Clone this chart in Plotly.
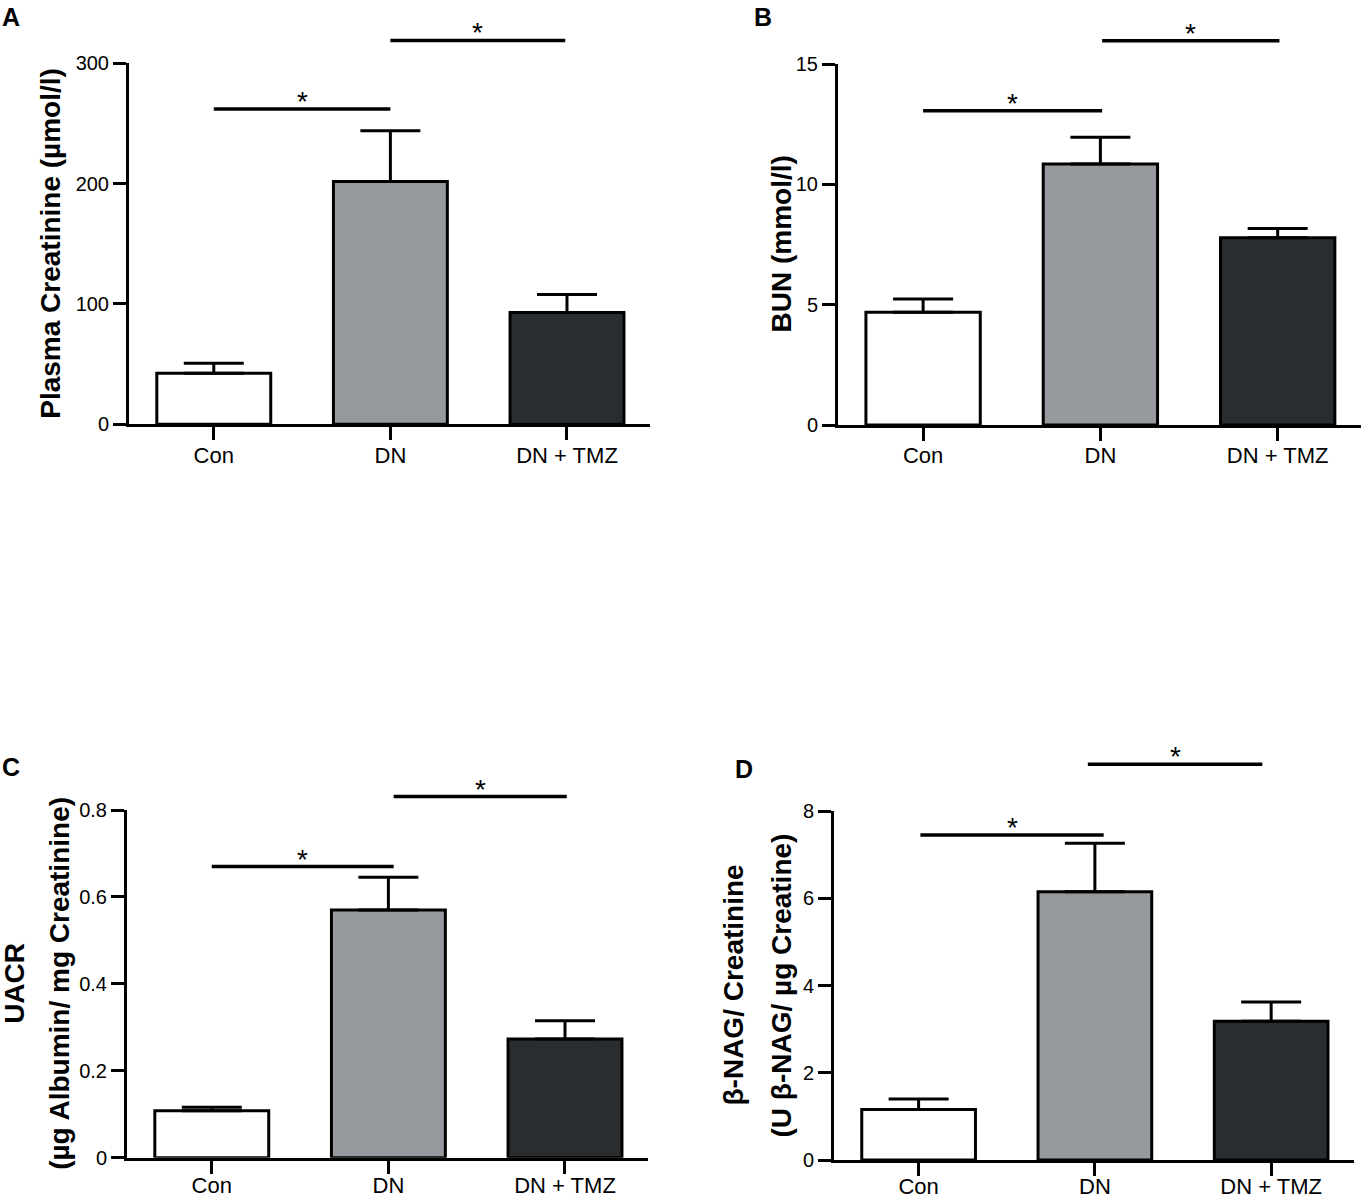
import plotly.graph_objects as go

FIG_W, FIG_H = 1361, 1199

groups = ["Con", "DN", "DN + TMZ"]
group_colors = ["#ffffff", "#96999d", "#2a2d30"]

# mean and SEM
creatinine = [42.5, 201.7, 92.9]
creatinine_sem = [8.3, 42.3, 15.0]
bun = [4.69, 10.85, 7.78]
bun_sem = [0.55, 1.11, 0.39]
uacr = [0.108, 0.570, 0.273]
uacr_sem = [0.008, 0.075, 0.042]
nag = [1.16, 6.15, 3.18]
nag_sem = [0.24, 1.11, 0.44]

# significance bars: (from group, to group, height)
creatinine_sig = [(0, 1, 262), (1, 1.99, 319)]
bun_sig = [(0, 1.01, 13.06), (1.01, 2.01, 15.97)]
uacr_sig = [(0, 1.03, 0.670), (1.03, 2.01, 0.831)]
nag_sig = [(0.01, 1.05, 7.45), (0.96, 1.95, 9.07)]

creatinine_ticks = [0, 100, 200, 300]
bun_ticks = [0, 5, 10, 15]
uacr_ticks = [0, 0.2, 0.4, 0.6, 0.8]
nag_ticks = [0, 2, 4, 6, 8]

FONT = "Liberation Sans, Arial, Helvetica, sans-serif"


def px_x(p):
    return p / FIG_W


def px_y(p):
    return 1 - p / FIG_H


# label, values, sem, sig, ticks, extra range for sig bars,
# titles [(text, x_px)], plot box px (left, right, bottom, top), letter pos, label standoff
panels = [
    ("A", creatinine, creatinine_sem, creatinine_sig, creatinine_ticks, 330,
     [("Plasma Creatinine (µmol/l)", 51)], (129, 650, 424.3, 63.3), (0, 1), -4),
    ("B", bun, bun_sem, bun_sig, bun_ticks, 16.6,
     [("BUN (mmol/l)", 781)], (838, 1361, 425, 64), (752, 1), -4),
    ("C", uacr, uacr_sem, uacr_sig, uacr_ticks, 0.88,
     [("UACR", 15), ("(µg Albumin/ mg Creatinine)", 60)], (127, 648, 1157.7, 810), (0, 751), -7),
    ("D", nag, nag_sem, nag_sig, nag_ticks, 9.6,
     [("β-NAG/ Creatinine", 733), ("(U β-NAG/ µg Creatine)", 781)], (834, 1354, 1160, 811), (733, 753), -8),
]

fig = go.Figure()
annotations = []
axes = {}

for i, (label, vals, sem, sig, ticks, sig_top, titles, box, letter, standoff) in enumerate(panels, start=1):
    xname = "x" if i == 1 else f"x{i}"
    yname = "y" if i == 1 else f"y{i}"
    sname = f"y{i + 4}"
    left, right, bottom, top = box
    scale = (bottom - top) / ticks[-1]

    fig.add_trace(go.Bar(
        x=list(range(len(groups))), y=vals, width=0.645,
        marker=dict(color=group_colors, line=dict(color="black", width=3)),
        error_y=dict(type="data", symmetric=False, array=sem, arrayminus=[0] * len(sem),
                     color="black", thickness=3, width=30),
        xaxis=xname, yaxis=yname, showlegend=False, hoverinfo="skip",
    ))

    for a, b, h in sig:
        fig.add_trace(go.Scatter(
            x=[a, b], y=[h, h], mode="lines", line=dict(color="black", width=3.5),
            xaxis=xname, yaxis=sname, showlegend=False, hoverinfo="skip",
        ))
        annotations.append(dict(
            x=(a + b) / 2, y=h, xref=xname, yref=sname, text="*", showarrow=False,
            xanchor="center", yanchor="bottom", yshift=-10,
            font=dict(family=FONT, size=28, color="black"),
        ))

    axes["xaxis" if i == 1 else f"xaxis{i}"] = dict(
        domain=[px_x(left), px_x(right)], range=[-0.48, 2.47], anchor=yname,
        tickvals=list(range(len(groups))), ticktext=groups,
        showline=True, linecolor="black", linewidth=3,
        ticks="outside", ticklen=13, tickwidth=3, tickcolor="black",
        ticklabelstandoff=standoff,
        showgrid=False, zeroline=False,
        tickfont=dict(family=FONT, size=22, color="black"),
    )
    axes["yaxis" if i == 1 else f"yaxis{i}"] = dict(
        domain=[px_y(bottom), px_y(top)], range=[0, ticks[-1]], anchor=xname,
        tickvals=ticks, showline=True, linecolor="black", linewidth=3,
        ticks="outside", ticklen=13, tickwidth=3, tickcolor="black",
        showgrid=False, zeroline=False,
        tickfont=dict(family=FONT, size=20, color="black"),
    )
    axes[f"yaxis{i + 4}"] = dict(
        domain=[px_y(bottom), px_y(bottom - sig_top * scale)], range=[0, sig_top],
        anchor=xname, visible=False, showgrid=False, zeroline=False,
    )

    mid = (bottom + top) / 2
    for text, cx in titles:
        annotations.append(dict(
            x=px_x(cx), y=px_y(mid), xref="paper", yref="paper", text=text,
            textangle=-90, showarrow=False, xanchor="center", yanchor="middle",
            font=dict(family=FONT, size=28, color="black", weight="bold"),
        ))

    annotations.append(dict(
        x=px_x(letter[0]), y=px_y(letter[1]), xref="paper", yref="paper", text=label,
        showarrow=False, xanchor="left", yanchor="top",
        font=dict(family=FONT, size=25, color="black", weight="bold"),
    ))

fig.update_layout(
    width=FIG_W, height=FIG_H, autosize=False,
    margin=dict(l=0, r=0, t=0, b=0, autoexpand=False),
    plot_bgcolor="rgba(0,0,0,0)", paper_bgcolor="white",
    showlegend=False, annotations=annotations, **axes,
)

# the page body has a default 8px margin; drop it so the figure sits at 0,0
fig.write_html("out.html", config={"displayModeBar": False},
               post_script="document.body.style.margin = '0';")
